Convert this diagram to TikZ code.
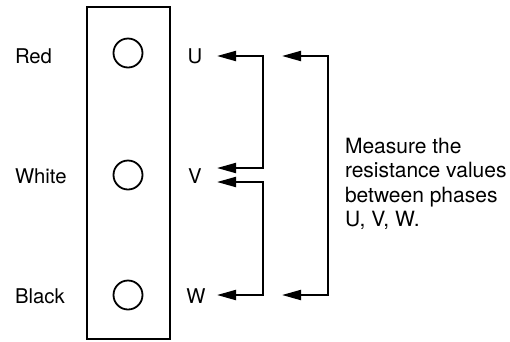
\documentclass[tikz,border=0pt]{standalone}
\usepackage{fontspec}
\setmainfont{TeX Gyre Heros}
\usetikzlibrary{arrows.meta,positioning}

\begin{document}
\begin{tikzpicture}[x=1pt,y=-1pt,line width=2pt,
      font=\fontsize{20.3}{24.5}\selectfont,
      pin node/.style={circle,draw,line width=1.8pt,minimum size=29pt,inner sep=0pt},
      wire node/.style={anchor=base west,inner sep=0pt},
      phase node/.style={anchor=base,inner sep=0pt},
      probe/.style={{Triangle[length=19pt,width=10pt]}-{Triangle[length=19pt,width=10pt]}}]
      \useasboundingbox (0,0) rectangle (510,341);

      % terminal block
      \node[draw,minimum width=83pt,minimum height=332pt,inner sep=0pt] (block) at (128.5,173) {};
      \node[pin node] (pu) at (128,53) {};
      \node[pin node] (pv) at (128,175) {};
      \node[pin node] (pw) at (128,295) {};

      \node[wire node] (red) at (14,63) {Red};
      \node[wire node] (white) at (14,183) {White};
      \node[wire node] (black) at (14,303) {Black};

      \node[phase node] (u) at (195,63) {U};
      \node[phase node] (v) at (195,183) {V};
      \node[phase node] (w) at (196,303) {W};

      % probe ends
      \coordinate (tu) at (217,56);
      \coordinate (tv1) at (217,168);
      \coordinate (tv2) at (217,182);
      \coordinate (tw) at (217,295);
      \coordinate (ru) at (282,56);
      \coordinate (rw) at (282,295);

      \draw[probe] (tv1) -- ++(46,0) |- (tu);
      \draw[probe] (tv2) -- ++(46,0) |- (tw);
      \draw[probe] (ru) -- ++(46,0) |- (rw);

      \node[anchor=north west,align=left,inner sep=0pt,font=\fontsize{21}{24.5}\selectfont] (note) at (344,137)
        {Measure the\\resistance values\\between phases\\U, V, W.};
    \end{tikzpicture}
\end{document}
